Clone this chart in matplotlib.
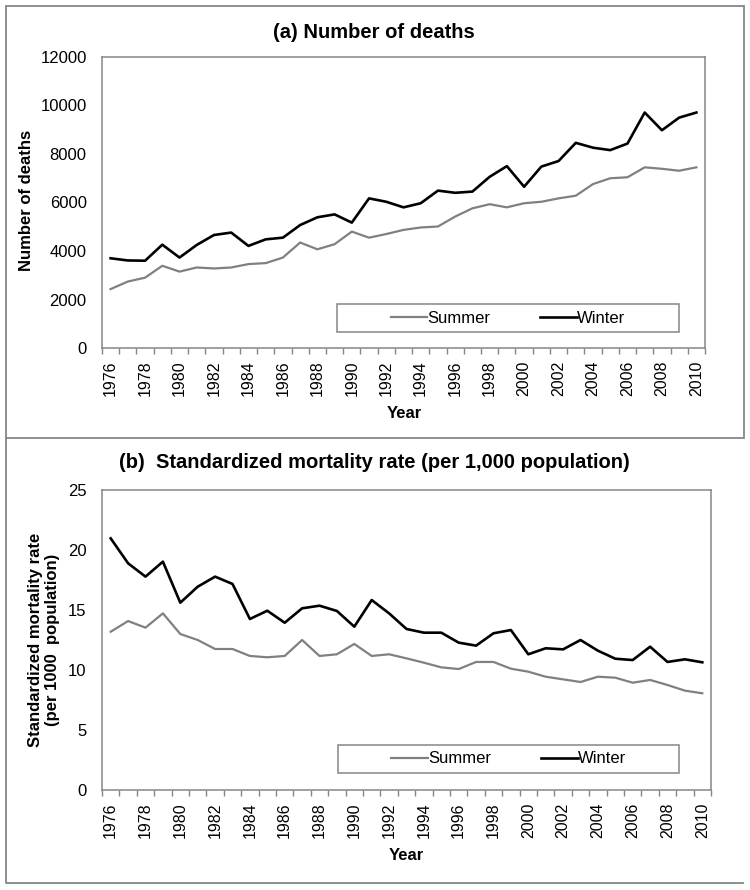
import matplotlib
matplotlib.use("Agg")
import matplotlib.pyplot as plt
from matplotlib.patches import Rectangle
from matplotlib.lines import Line2D
from matplotlib.ticker import FixedLocator, NullFormatter

plt.rcParams['font.family'] = ['Liberation Sans', 'DejaVu Sans']

years = list(range(1976, 2011))

summer_deaths = [2430, 2740, 2900, 3390, 3150, 3320, 3280, 3320, 3460, 3500, 3730, 4350,
                 4070, 4280, 4800, 4550, 4700, 4870, 4970, 5010, 5420, 5760, 5930, 5800,
                 5970, 6030, 6170, 6280, 6760, 7000, 7040, 7450, 7390, 7310, 7450]
winter_deaths = [3700, 3610, 3600, 4260, 3730, 4250, 4660, 4760, 4210, 4480, 4550, 5070,
                 5390, 5510, 5170, 6170, 6030, 5800, 5970, 6490, 6400, 6450, 7060, 7500,
                 6650, 7480, 7710, 8460, 8260, 8160, 8430, 9710, 8980, 9500, 9710]

summer_rate = [13.19, 14.08, 13.53, 14.72, 13.0, 12.5, 11.75, 11.75, 11.17, 11.06, 11.17, 12.5,
               11.17, 11.31, 12.17, 11.17, 11.31, 10.97, 10.61, 10.22, 10.08, 10.67, 10.67,
               10.11, 9.86, 9.44, 9.22, 9.0, 9.44, 9.36, 8.94, 9.17, 8.75, 8.28, 8.06]
winter_rate = [20.97, 18.89, 17.78, 19.03, 15.61, 16.94, 17.78, 17.17, 14.25, 14.94, 13.94, 15.14,
               15.36, 14.92, 13.61, 15.83, 14.72, 13.42, 13.11, 13.11, 12.28, 12.03, 13.06,
               13.33, 11.31, 11.81, 11.72, 12.5, 11.61, 10.94, 10.83, 11.94, 10.67, 10.89, 10.64]

W, H = 750, 890
GRAY = '#808080'
SPINE = '#868686'


def px_rect(left, top, right, bottom):
    # pixel box -> figure fraction [l, b, w, h]
    return [left / W, 1 - bottom / H, (right - left) / W, (bottom - top) / H]


def panel(ax, summer, winter, ymax, ystep, leg_box):
    ax.plot(years, summer, color=GRAY, lw=1.6, label='Summer')
    ax.plot(years, winter, color='black', lw=1.9, label='Winter')
    ax.set_xlim(years[0] - 0.5, years[-1] + 0.5)
    ax.set_ylim(0, ymax)
    ax.set_yticks(list(range(0, ymax + 1, ystep)))
    ax.tick_params(axis='y', length=0, pad=11, labelsize=12)

    # ticks between categories, labels on every other year
    ax.xaxis.set_major_locator(FixedLocator([y - 0.5 for y in years] + [years[-1] + 0.5]))
    ax.xaxis.set_major_formatter(NullFormatter())
    ax.xaxis.set_minor_locator(FixedLocator(years[::2]))
    ax.set_xticklabels([str(y) for y in years[::2]], minor=True, rotation=90)
    ax.tick_params(axis='x', which='major', length=4, width=1, color=SPINE, direction='out')
    ax.tick_params(axis='x', which='minor', length=0, pad=9, labelsize=11.5)

    for s in ax.spines.values():
        s.set_color(SPINE)
        s.set_linewidth(1.1)

    x0, y0, x1, y1 = leg_box
    ax.add_patch(Rectangle((x0, y0), x1 - x0, y1 - y0, transform=ax.transAxes,
                           facecolor='white', edgecolor=SPINE, lw=1.1, zorder=3))
    leg = ax.legend(loc='center', bbox_to_anchor=((x0 + x1) / 2, (y0 + y1) / 2),
                    ncol=2, frameon=False, fontsize=12, handlelength=2.2,
                    handletextpad=0.0, columnspacing=3.0)
    leg.set_zorder(4)


fig = plt.figure(figsize=(7.5, 8.9), dpi=100)

ax1 = fig.add_axes(px_rect(102, 57, 705, 348))
panel(ax1, summer_deaths, winter_deaths, 12000, 2000, (0.390, 0.055, 0.957, 0.151))

ax2 = fig.add_axes(px_rect(102, 490, 711, 790))
panel(ax2, summer_rate, winter_rate, 25, 5, (0.3875, 0.057, 0.9475, 0.150))

# titles and axis labels
fig.text(374 / W, 1 - 32 / H, '(a) Number of deaths', ha='center', va='center',
         fontsize=14.5, fontweight='bold')
fig.text(27 / W, 1 - 200 / H, 'Number of deaths', ha='center', va='center',
         rotation=90, fontsize=12, fontweight='bold')
fig.text(404 / W, 1 - 413 / H, 'Year', ha='center', va='center',
         fontsize=12, fontweight='bold')

fig.text(374 / W, 1 - 463 / H, '(b)  Standardized mortality rate (per 1,000 population)',
         ha='center', va='center', fontsize=14.5, fontweight='bold')
fig.text(44 / W, 1 - 640 / H, 'Standardized mortality rate\n(per 1000  population)',
         ha='center', va='center', rotation=90, fontsize=12, fontweight='bold',
         multialignment='center', linespacing=1.1)
fig.text(406 / W, 1 - 855 / H, 'Year', ha='center', va='center',
         fontsize=12, fontweight='bold')

# panel frames
fig.add_artist(Rectangle((6 / W, 1 - 437.5 / H), 738 / W, 431.5 / H, transform=fig.transFigure,
                         fill=False, edgecolor=SPINE, lw=1.3))
fig.add_artist(Line2D([6 / W, 6 / W, 743 / W], [1 - 437.5 / H, 1 - 883 / H, 1 - 883 / H],
                      transform=fig.transFigure, color=SPINE, lw=1.3))

fig.savefig('out.png', dpi=100)
